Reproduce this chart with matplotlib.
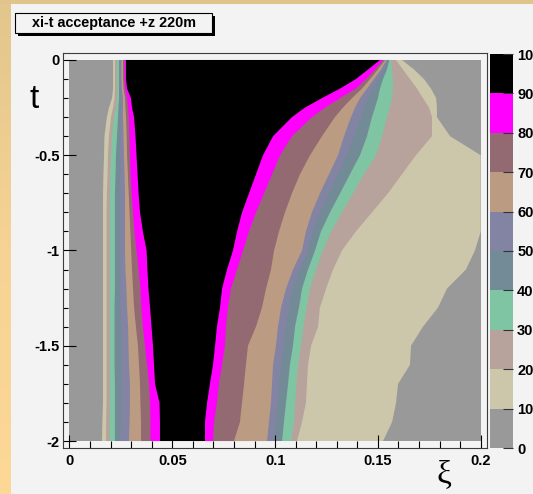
import numpy as np
import matplotlib
matplotlib.use('Agg')
import matplotlib.pyplot as plt
from matplotlib.colors import ListedColormap, BoundaryNorm, LinearSegmentedColormap
from matplotlib.cm import ScalarMappable
from matplotlib.patches import Rectangle
from matplotlib.ticker import MultipleLocator

t = [0, -0.05, -0.1, -0.15, -0.2, -0.25, -0.3, -0.4, -0.5, -0.6, -0.7, -0.8,
     -0.9, -1.0, -1.1, -1.2, -1.3, -1.4, -1.5, -1.6, -1.7, -1.8, -1.9, -2.0]

# left edge (xi) of the region with acceptance above 10, 20, ... 90 %
left_10 = [0.0212, 0.0212, 0.0212, 0.0212, 0.0207, 0.0192, 0.0182, 0.0170, 0.0168, 0.0165, 0.0163, 0.0163,
           0.0163, 0.0163, 0.0163, 0.0163, 0.0163, 0.0163, 0.0163, 0.0163, 0.0163, 0.0163, 0.0160, 0.0158]
left_20 = [0.0221, 0.0221, 0.0221, 0.0221, 0.0219, 0.0212, 0.0202, 0.0192, 0.0187, 0.0185, 0.0182, 0.0180,
           0.0180, 0.0180, 0.0180, 0.0180, 0.0180, 0.0180, 0.0180, 0.0180, 0.0180, 0.0180, 0.0178, 0.0178]
left_30 = [0.0231, 0.0231, 0.0231, 0.0231, 0.0231, 0.0226, 0.0216, 0.0207, 0.0202, 0.0199, 0.0197, 0.0197,
           0.0197, 0.0197, 0.0197, 0.0197, 0.0197, 0.0197, 0.0197, 0.0197, 0.0197, 0.0197, 0.0195, 0.0195]
left_40 = [0.0241, 0.0241, 0.0241, 0.0241, 0.0241, 0.0238, 0.0236, 0.0231, 0.0226, 0.0224, 0.0221, 0.0221,
           0.0221, 0.0221, 0.0221, 0.0221, 0.0219, 0.0219, 0.0219, 0.0219, 0.0221, 0.0221, 0.0221, 0.0221]
left_50 = [0.0246, 0.0246, 0.0246, 0.0246, 0.0248, 0.0248, 0.0248, 0.0246, 0.0246, 0.0246, 0.0246, 0.0246,
           0.0246, 0.0246, 0.0246, 0.0246, 0.0248, 0.0250, 0.0253, 0.0253, 0.0253, 0.0250, 0.0248, 0.0246]
left_60 = [0.0253, 0.0253, 0.0253, 0.0255, 0.0260, 0.0260, 0.0260, 0.0263, 0.0265, 0.0268, 0.0270, 0.0270,
           0.0270, 0.0270, 0.0272, 0.0277, 0.0280, 0.0285, 0.0287, 0.0289, 0.0294, 0.0294, 0.0292, 0.0289]
left_70 = [0.0260, 0.0260, 0.0260, 0.0263, 0.0270, 0.0272, 0.0275, 0.0278, 0.0280, 0.0284, 0.0288, 0.0292,
           0.0296, 0.0300, 0.0304, 0.0309, 0.0314, 0.0323, 0.0333, 0.0338, 0.0343, 0.0345, 0.0348, 0.0348]
left_80 = [0.0268, 0.0268, 0.0268, 0.0270, 0.0280, 0.0285, 0.0289, 0.0292, 0.0294, 0.0297, 0.0302, 0.0309,
           0.0316, 0.0326, 0.0336, 0.0345, 0.0350, 0.0357, 0.0367, 0.0377, 0.0387, 0.0392, 0.0394, 0.0394]
left_90 = [0.0275, 0.0275, 0.0275, 0.0280, 0.0299, 0.0304, 0.0314, 0.0321, 0.0326, 0.0331, 0.0336, 0.0343,
           0.0357, 0.0375, 0.0379, 0.0384, 0.0392, 0.0399, 0.0406, 0.0411, 0.0416, 0.0438, 0.0440, 0.0440]

# right edge (xi) of the same regions
right_10 = [0.1617, 0.1676, 0.1724, 0.1758, 0.1783, 0.1787, 0.1787, 0.1851, 0.2000, 0.2000, 0.2000, 0.2000,
            0.2000, 0.1972, 0.1928, 0.1836, 0.1792, 0.1719, 0.1661, 0.1656, 0.1598, 0.1588, 0.1569, 0.1525]
right_20 = [0.1588, 0.1622, 0.1656, 0.1690, 0.1719, 0.1749, 0.1763, 0.1763, 0.1685, 0.1617, 0.1549, 0.1471,
            0.1393, 0.1325, 0.1282, 0.1248, 0.1218, 0.1209, 0.1175, 0.1160, 0.1155, 0.1150, 0.1131, 0.1107]
right_30 = [0.1564, 0.1569, 0.1573, 0.1573, 0.1569, 0.1559, 0.1544, 0.1520, 0.1491, 0.1432, 0.1379, 0.1325,
            0.1272, 0.1233, 0.1199, 0.1170, 0.1153, 0.1138, 0.1126, 0.1111, 0.1104, 0.1097, 0.1092, 0.1077]
right_40 = [0.1556, 0.1544, 0.1525, 0.1510, 0.1500, 0.1486, 0.1471, 0.1447, 0.1413, 0.1364, 0.1316, 0.1267,
            0.1223, 0.1194, 0.1160, 0.1131, 0.1116, 0.1097, 0.1087, 0.1072, 0.1063, 0.1053, 0.1043, 0.1034]
right_50 = [0.1549, 0.1530, 0.1500, 0.1476, 0.1452, 0.1432, 0.1418, 0.1384, 0.1350, 0.1306, 0.1262, 0.1218,
            0.1184, 0.1160, 0.1121, 0.1087, 0.1068, 0.1053, 0.1043, 0.1029, 0.1019, 0.1014, 0.1004, 0.0995]
right_60 = [0.1542, 0.1515, 0.1481, 0.1447, 0.1413, 0.1389, 0.1369, 0.1335, 0.1306, 0.1262, 0.1218, 0.1179,
            0.1150, 0.1131, 0.1087, 0.1053, 0.1029, 0.1014, 0.1004, 0.0990, 0.0985, 0.0980, 0.0970, 0.0961]
right_70 = [0.1535, 0.1500, 0.1462, 0.1423, 0.1374, 0.1330, 0.1291, 0.1228, 0.1170, 0.1121, 0.1082, 0.1048,
            0.1019, 0.0995, 0.0980, 0.0956, 0.0936, 0.0907, 0.0868, 0.0858, 0.0849, 0.0839, 0.0829, 0.0800]
right_80 = [0.1525, 0.1486, 0.1442, 0.1393, 0.1316, 0.1243, 0.1179, 0.1082, 0.1024, 0.0985, 0.0946, 0.0907,
            0.0873, 0.0844, 0.0815, 0.0785, 0.0771, 0.0761, 0.0756, 0.0742, 0.0727, 0.0717, 0.0703, 0.0698]
right_90 = [0.1510, 0.1452, 0.1393, 0.1316, 0.1228, 0.1145, 0.1082, 0.0990, 0.0941, 0.0907, 0.0873, 0.0839,
            0.0815, 0.0795, 0.0766, 0.0742, 0.0732, 0.0717, 0.0708, 0.0698, 0.0683, 0.0669, 0.0659, 0.0659]

levels = [0, 10, 20, 30, 40, 50, 60, 70, 80, 90, 100]
band_colors = ['#999999', '#ccc7aa', '#b8a39c', '#7fc5a3', '#728b97',
               '#8383a3', '#bb9c82', '#936a72', '#ff00ff', '#000000']

xi_ticks = [0, 0.05, 0.1, 0.15, 0.2]
xi_labels = ['0', '0.05', '0.1', '0.15', '0.2']
t_ticks = [0, -0.5, -1, -1.5, -2]
t_labels = ['0', '-0.5', '-1', '-1.5', '-2']

title = 'xi-t acceptance +z 220m'

left_edges = [left_10, left_20, left_30, left_40, left_50, left_60, left_70, left_80, left_90]
right_edges = [right_10, right_20, right_30, right_40, right_50, right_60, right_70, right_80, right_90]

canvas = '#f3f3f3'
narrow = ['Liberation Sans Narrow', 'Liberation Sans', 'DejaVu Sans']

W, H = 533, 494
fig = plt.figure(figsize=(W / 100, H / 100), dpi=100)
fig.patch.set_facecolor(canvas)

# slide border (orange strip on the left, tan strip on top)
strip = fig.add_axes([0, 0, 11 / W, 1])
grad = np.linspace(0, 1, 256).reshape(-1, 1)
strip_cmap = LinearSegmentedColormap.from_list('strip', ['#fdd897', '#f6d394', '#e2c68d'])
strip.imshow(grad, aspect='auto', extent=[0, 1, 0, 1], origin='lower', cmap=strip_cmap)
strip.axis('off')
top = fig.add_axes([0, 1 - 4 / H, 1, 4 / H])
top.set_facecolor('#e0c48b')
top.set_xticks([])
top.set_yticks([])
for s in top.spines.values():
    s.set_visible(False)

# main contour frame
ax = fig.add_axes([63 / W, 1 - 448 / H, 424 / W, 395 / H])
ax.set_facecolor(canvas)
ax.fill([0, 0.2, 0.2, 0], [0, 0, -2, -2], color=band_colors[0], lw=0)
for k in range(9):
    xs = left_edges[k] + right_edges[k][::-1]
    ys = t + t[::-1]
    ax.fill(xs, ys, color=band_colors[k + 1], lw=0)

ax.set_xlim(-0.00316, 0.20306)
ax.set_ylim(-2.0367, 0.0367)
ax.set_xticks(xi_ticks)
ax.set_xticklabels(xi_labels, family=narrow, fontweight='bold', fontsize=10.5)
ax.set_yticks(t_ticks)
ax.set_yticklabels(t_labels, family=narrow, fontweight='bold', fontsize=10.5)
ax.xaxis.set_minor_locator(MultipleLocator(0.01))
ax.yaxis.set_minor_locator(MultipleLocator(0.1))
ax.tick_params(axis='both', which='both', direction='in', color='black', width=0.8, zorder=5)
ax.tick_params(axis='x', which='major', length=9.5, pad=4)
ax.tick_params(axis='x', which='minor', length=5)
ax.tick_params(axis='y', which='major', length=9.5, pad=2.5)
ax.tick_params(axis='y', which='minor', length=3.6)
for s in ax.spines.values():
    s.set_color('#3c3c3c')
    s.set_linewidth(0.8)
    s.set_zorder(6)

# colour scale
cax = fig.add_axes([490 / W, 1 - 448 / H, 23 / W, 394 / H])
cmap = ListedColormap(band_colors)
norm = BoundaryNorm(levels, cmap.N)
cb = fig.colorbar(ScalarMappable(norm=norm, cmap=cmap), cax=cax, ticks=levels)
cb.outline.set_visible(False)
cax.tick_params(direction='in', length=7, width=0.8, color='#333333', pad=3)
cax.set_yticklabels([str(v) for v in levels], family=narrow, fontweight='bold', fontsize=10.5)

# axis titles
fig.text(34 / W, 1 - 100 / H, 't', ha='center', va='center', fontsize=24,
         family=['Liberation Sans', 'DejaVu Sans'])
fig.text(444 / W, 1 - 475 / H, '\u03be', ha='center', va='center', fontsize=24,
         family=['Liberation Serif', 'DejaVu Serif'])

# title box with shadow
fig.patches.append(Rectangle((18 / W, 1 - 36 / H), 197 / W, 20 / H, transform=fig.transFigure,
                             facecolor='black', edgecolor='none'))
fig.patches.append(Rectangle((15 / W, 1 - 33 / H), 197 / W, 20 / H, transform=fig.transFigure,
                             facecolor=canvas, edgecolor='black', lw=0.8))
fig.text(113.5 / W, 1 - 23 / H, title, ha='center', va='center', fontsize=10.4,
         family=narrow, fontweight='bold')

fig.savefig('out.png', dpi=100, facecolor=canvas)
